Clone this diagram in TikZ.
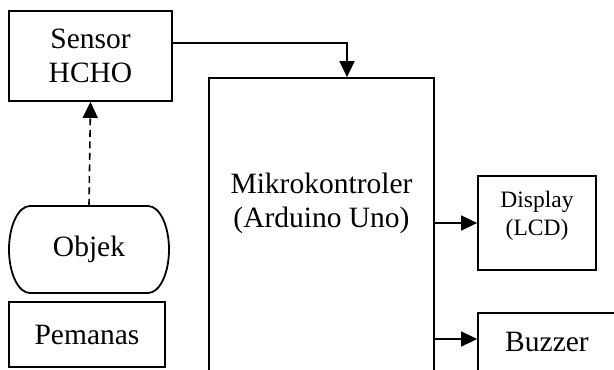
\documentclass[tikz,border=0pt]{standalone}
\usepackage{fontspec}
\setmainfont{Liberation Serif}
\usetikzlibrary{arrows.meta,calc}
\begin{document}
\begin{tikzpicture}[x=1pt,y=-1pt,
  box/.style={draw,line width=1.8pt,inner sep=0pt,rectangle},
  lbl/.style={font=\fontsize{29.5}{34}\selectfont,align=center,inner sep=0pt},
  small/.style={font=\fontsize{23.5}{28}\selectfont,align=center,inner sep=0pt},
  arr/.style={line width=1.6pt,-{Triangle[length=16pt,width=15pt]}},
  darr/.style={arr,dash pattern=on 7pt off 4.5pt}]
\useasboundingbox (0,0) rectangle (614,370);
\clip (0,0) rectangle (614,370);
\node[box,minimum width=163pt,minimum height=90pt,lbl] (sensor) at (90.5,56) {Sensor\\HCHO};
\node[box,minimum width=225pt,minimum height=322pt] (micro) at (321.5,239) {};
\node[lbl] (microtext) at (321.5,203) {Mikrokontroler\\(Arduino Uno)};
\node[box,minimum width=118pt,minimum height=94pt] (display) at (537,223) {};
\node[small] (displaytext) at (537,216) {Display\\(LCD)};
\node[box,minimum width=162pt,minimum height=67pt] (buzzer) at (559,346.5) {};
\node[lbl] (buzzertext) at (547,342) {Buzzer};
\node[box,minimum width=156pt,minimum height=65pt,lbl] (pemanas) at (87,334.5) {Pemanas};
\node[minimum width=160pt,minimum height=87pt,inner sep=0pt,lbl] (objek) at (89,249.5) {Objek};
\draw[line width=1.8pt] (30,206) -- (148,206)
  .. controls (159.6,206) and (169,225.5) .. (169,249.5)
  .. controls (169,273.5) and (159.6,293) .. (148,293)
  -- (30,293)
  .. controls (18.4,293) and (9,273.5) .. (9,249.5)
  .. controls (9,225.5) and (18.4,206) .. cycle;
\draw[arr] ([yshift=13pt]sensor.east) -| ([xshift=25.5pt]micro.north);
\draw[arr] (micro.east |- display.west) -- (display.west);
\draw[arr] ([yshift=7.5pt]micro.east |- buzzer.west) -- ([yshift=7.5pt]buzzer.west);
\draw[darr] (objek.north) -- (sensor.south);
\end{tikzpicture}
\end{document}
